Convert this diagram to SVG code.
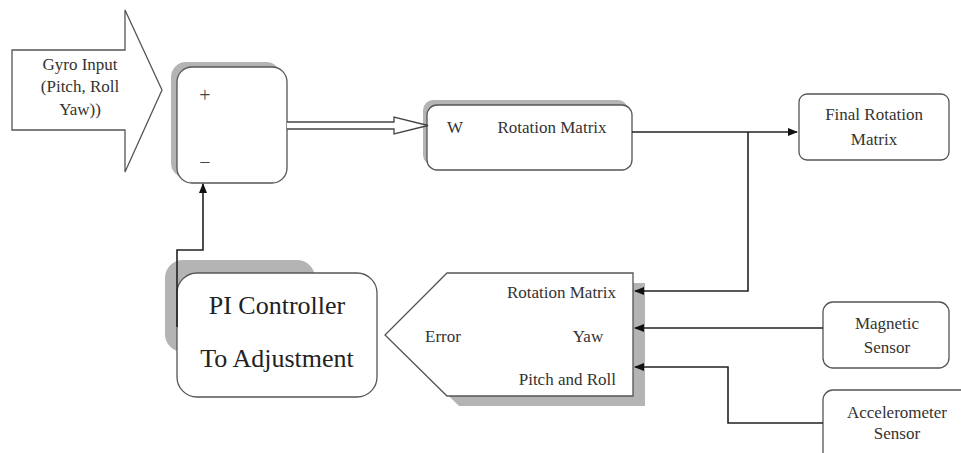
<svg xmlns="http://www.w3.org/2000/svg" width="961" height="453" viewBox="0 0 961 453">
<style>
.box{fill:#fff;stroke:#555;stroke-width:1.3}
.shadow{fill:#b4b4b4}
.ln{fill:none;stroke:#222;stroke-width:1.6}
.t{font-family:'Liberation Serif','DejaVu Serif',serif;font-size:17px;fill:#333}
.pm{font-family:'Liberation Serif','DejaVu Serif',serif;font-size:20px;fill:#444}
.big{font-family:'Liberation Serif','DejaVu Serif',serif;font-size:26px;fill:#222}
</style>
<defs>
<marker id="ah" markerWidth="10" markerHeight="10" refX="9" refY="4" orient="auto" markerUnits="userSpaceOnUse">
<path d="M0,0 L10,4 L0,8 Z" fill="#111"/>
</marker>
</defs>
<rect width="961" height="453" fill="#fff"/>

<g id="gyro">
<path class="box" d="M12,50 L125,50 L125,10 L162,90 L125,172 L125,130 L12,130 Z"/>
<text class="t" x="80" y="70" text-anchor="middle">Gyro Input</text>
<text class="t" x="80" y="92" text-anchor="middle">(Pitch, Roll</text>
<text class="t" x="80" y="115" text-anchor="middle">Yaw))</text>
</g>

<g id="sum">
<rect class="shadow" x="171" y="62" width="110" height="116" rx="15"/>
<rect class="box" x="177" y="67" width="110" height="116" rx="15"/>
<text class="pm" x="205" y="102" text-anchor="middle">+</text>
<text class="pm" x="205" y="169" text-anchor="middle">−</text>
</g>

<g id="rotation">
<rect class="shadow" x="423" y="100" width="205" height="65" rx="10"/>
<rect class="box" x="427" y="105" width="205" height="65" rx="10"/>
<text class="t" x="455" y="133" text-anchor="middle">W</text>
<text class="t" x="552" y="133" text-anchor="middle">Rotation Matrix</text>
</g>

<g id="final">
<rect class="box" x="799" y="94" width="150" height="66" rx="8"/>
<text class="t" x="874" y="120" text-anchor="middle">Final Rotation</text>
<text class="t" x="874" y="145" text-anchor="middle">Matrix</text>
</g>

<g id="error">
<path class="shadow" d="M459,283 L645,283 L645,406 L459,406 L397,345 Z"/>
<path class="box" d="M447,273 L633,273 L633,396 L447,396 L385,335 Z"/>
<text class="t" x="616" y="298" text-anchor="end">Rotation Matrix</text>
<text class="t" x="443" y="342" text-anchor="middle">Error</text>
<text class="t" x="588" y="342" text-anchor="middle">Yaw</text>
<text class="t" x="616" y="385" text-anchor="end">Pitch and Roll</text>
</g>

<g id="pi">
<rect class="shadow" x="165" y="260" width="150" height="92" rx="18"/>
<rect class="box" x="177" y="273" width="200" height="124" rx="20"/>
<text class="big" x="277" y="314" text-anchor="middle">PI Controller</text>
<text class="big" x="277" y="367" text-anchor="middle">To Adjustment</text>
</g>

<g id="magnetic">
<rect class="box" x="823" y="302" width="126" height="66" rx="10"/>
<text class="t" x="887" y="329" text-anchor="middle">Magnetic</text>
<text class="t" x="887" y="353" text-anchor="middle">Sensor</text>
</g>

<g id="accel">
<rect class="box" x="823" y="390" width="150" height="80" rx="10"/>
<text class="t" x="897" y="418" text-anchor="middle">Accelerometer</text>
<text class="t" x="897" y="439" text-anchor="middle">Sensor</text>
</g>

<g id="connectors">
<path d="M287,122 L394,122 L394,117 L428,125.5 L394,134 L394,129 L287,129" fill="#fff" stroke="#444" stroke-width="1.3"/>
<path class="ln" d="M632,132 L797,132" marker-end="url(#ah)"/>
<path class="ln" d="M748,132 L748,291 L635,291" marker-end="url(#ah)"/>
<path class="ln" d="M823,328 L635,328" marker-end="url(#ah)"/>
<path class="ln" d="M823,423 L728,423 L728,367 L635,367" marker-end="url(#ah)"/>
<path class="ln" d="M177,327 L177,250 L203,250 L203,184" marker-end="url(#ah)"/>
</g>
</svg>
